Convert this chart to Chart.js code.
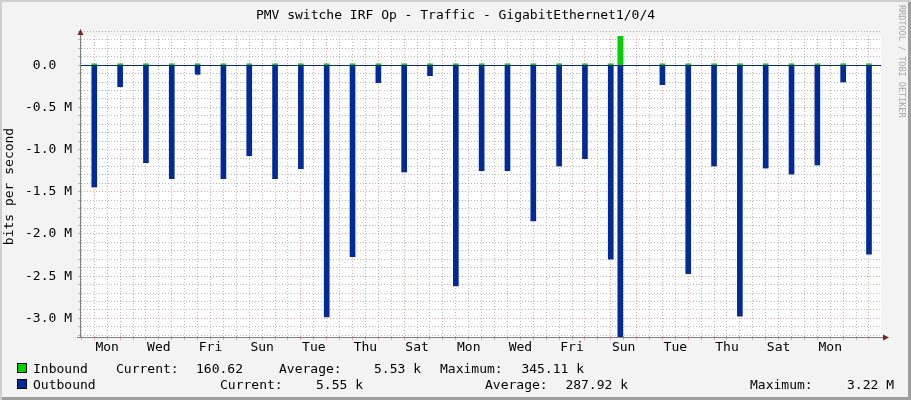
<!DOCTYPE html>
<html lang="en">
<head>
  <meta charset="UTF-8">
  <title>PMV switche IRF Op - Traffic - GigabitEthernet1/0/4</title>
  <script src="https://cdn.jsdelivr.net/npm/chart.js"></script>
  <style>
    body { margin: 0; background: #fff; }
    #graph {
      position: relative; width: 911px; height: 400px; overflow: hidden;
      background: #f3f3f3;
      box-shadow: inset 2px 2px 0 #cfcfcf, inset -3px -3px 0 #9e9e9e;
      font-family: 'DejaVu Sans Mono', monospace; font-size: 13px; color: #000;
    }
    #graph canvas { position: absolute; left: 0; top: 0; }
    .txt { position: absolute; white-space: pre; line-height: 15px; }
    .right { text-align: right; }
    .swatch { position: absolute; width: 8px; height: 8px; border: 1px solid #000; }
    #titulo { left: 0; top: 7px; width: 911px; text-align: center; }
    #firma {
      position: absolute; left: 898px; top: 5px; writing-mode: vertical-rl;
      font-size: 8.5px; line-height: 8px; color: #a8a8a8; white-space: pre;
    }
  </style>
</head>
<body>
  <div id="graph">
    <canvas id="grafico" width="911" height="400"></canvas>
    <div class="txt" id="titulo">PMV switche IRF Op - Traffic - GigabitEthernet1/0/4</div>
    <div id="firma">RRDTOOL / TOBI OETIKER</div>
    <div id="leyenda"></div>
  </div>

  <script>
    // x axis in days since the first Monday 00:00 shown
    const xStart = -0.515;
    const xEnd = 30.465;
    const dayLabels = ['Mon', 'Wed', 'Fri', 'Sun', 'Tue', 'Thu', 'Sat', 'Mon', 'Wed', 'Fri', 'Sun', 'Tue', 'Thu', 'Sat', 'Mon'];

    // y axis (bits per second)
    const yMin = -3.22e6;
    const yMax = 345.11e3;
    const yLabelValues = [0, -0.5, -1.0, -1.5, -2.0, -2.5, -3.0];   // M
    const yLabelTexts = ['0.0', '-0.5 M', '-1.0 M', '-1.5 M', '-2.0 M', '-2.5 M', '-3.0 M'];

    // nightly traffic peaks
    const spikeDays = [0, 1, 2, 3, 4, 5, 6, 7, 8, 9, 10, 11, 12, 13, 14, 15, 16, 17, 18, 19, 20, 20.37,
                       22, 23, 24, 25, 26, 27, 28, 29, 30];
    const outboundMbit = [-1.444, -0.256, -1.156, -1.345, -0.109, -1.345, -1.073, -1.345, -1.227, -2.983,
                          -2.269, -0.208, -1.266, -0.125, -2.616, -1.25, -1.25, -1.846, -1.195, -1.108,
                          -2.297, -3.22, -0.232, -2.47, -1.195, -2.972, -1.219, -1.29, -1.183, -0.2, -2.238];
    const inboundKbit = [16, 16, 16, 16, 16, 16, 16, 16, 16, 16, 16, 16, 16, 16, 16, 16, 16, 16, 16, 16,
                         16, 345.11, 16, 16, 16, 16, 16, 16, 16, 16, 16];

    // legend
    const seriesNames = ['Inbound', 'Outbound'];
    const seriesColors = ['#00CF00', '#002A97'];
    const statNames = ['Current:', 'Average:', 'Maximum:'];
    const inboundStats = ['160.62', '5.53 k', '345.11 k'];
    const outboundStats = ['5.55 k', '287.92 k', '3.22 M'];

    const GRID = 'rgba(143, 143, 143, 0.6)';
    const MGRID = 'rgba(222, 79, 79, 0.5)';
    const AXIS = '#808080';
    const ARROW = '#801f1f';
    const FUENTE = { family: "'DejaVu Sans Mono', monospace", size: 13, lineHeight: 1.2 };

    const gridY = [];
    for (let v = Math.ceil(yMax / 1e5); v >= Math.floor(yMin / 1e5) + 1; v--) gridY.push(v * 1e5);
    const gridX = [];
    for (let h = Math.ceil(xStart * 2); h <= Math.floor(xEnd * 2); h++) gridX.push(h / 2);

    const esMayorY = c => c.tick && Math.round(c.tick.value / 1e5) % 5 === 0;
    const esMayorX = c => c.tick && Number.isInteger(c.tick.value);

    // rrdtool paints the grid over the data, so scales get z: 1
    const fondoYEjes = {
      id: 'fondoYEjes',
      beforeDraw(chart) {
        const a = chart.chartArea, c = chart.ctx;
        c.save();
        c.fillStyle = '#ffffff';
        c.fillRect(a.left, a.top, a.right - a.left, a.bottom - a.top);
        c.restore();
      },
      afterDraw(chart) {
        const a = chart.chartArea, c = chart.ctx;
        const y0 = Math.round(chart.scales.y.getPixelForValue(0)) + 0.5;
        c.save();
        c.strokeStyle = '#0c2a80';
        c.lineWidth = 1;
        c.beginPath(); c.moveTo(a.left, y0); c.lineTo(a.right, y0); c.stroke();
        // axes
        c.strokeStyle = AXIS;
        c.beginPath();
        c.moveTo(a.left - 0.5, a.bottom + 1); c.lineTo(a.left - 0.5, a.top - 5);
        c.moveTo(a.left - 4, a.bottom + 0.5); c.lineTo(a.right + 3, a.bottom + 0.5);
        c.stroke();
        // arrows
        c.fillStyle = ARROW;
        c.beginPath();
        c.moveTo(a.left - 3.5, a.top - 1); c.lineTo(a.left + 2.5, a.top - 1); c.lineTo(a.left - 0.5, a.top - 7);
        c.closePath(); c.fill();
        c.beginPath();
        c.moveTo(a.right + 2, a.bottom - 2.5); c.lineTo(a.right + 2, a.bottom + 3.5); c.lineTo(a.right + 8, a.bottom + 0.5);
        c.closePath(); c.fill();
        c.restore();
      }
    };

    const ctx = document.getElementById('grafico').getContext('2d');
    const chart = new Chart(ctx, {
      type: 'bar',
      data: {
        datasets: [
          {
            label: seriesNames[0],
            data: spikeDays.map((d, i) => ({ x: d, y: inboundKbit[i] * 1e3 })),
            backgroundColor: seriesColors[0],
            barThickness: 5,
            grouped: false
          },
          {
            label: seriesNames[1],
            data: spikeDays.map((d, i) => ({ x: d, y: outboundMbit[i] * 1e6 })),
            backgroundColor: seriesColors[1],
            barThickness: 5,
            grouped: false
          }
        ]
      },
      options: {
        responsive: false,
        animation: false,
        layout: { padding: { left: 0, top: 36, right: 30, bottom: 43 } },
        plugins: { legend: { display: false }, tooltip: { enabled: false } },
        scales: {
          x: {
            type: 'linear',
            z: 1,
            min: xStart,
            max: xEnd,
            offset: false,
            afterBuildTicks: s => { s.ticks = gridX.map(v => ({ value: v })); },
            afterFit: s => { s.height = 20; },
            border: { display: false, dash: [1, 2] },
            grid: {
              offset: false,
              color: c => esMayorX(c) ? MGRID : GRID,
              tickColor: c => esMayorX(c) ? MGRID : GRID,
              tickLength: 3
            },
            ticks: {
              autoSkip: false, maxRotation: 0, padding: 0,
              color: '#000', font: FUENTE,
              callback: v => {
                const k = (v - 0.5) / 2;
                return Number.isInteger(k) && dayLabels[k] ? dayLabels[k] : '';
              }
            }
          },
          y: {
            type: 'linear',
            z: 1,
            min: yMin,
            max: yMax,
            afterBuildTicks: s => { s.ticks = gridY.map(v => ({ value: v })); },
            afterFit: s => { s.width = 81; },
            border: { display: false, dash: [1, 2] },
            grid: {
              color: c => esMayorY(c) ? MGRID : GRID,
              tickColor: c => esMayorY(c) ? MGRID : GRID,
              tickLength: 3
            },
            ticks: {
              autoSkip: false, padding: 6, color: '#000', font: FUENTE,
              callback: v => {
                const i = yLabelValues.findIndex(m => Math.abs(m * 1e6 - v) < 1);
                return i < 0 ? '' : yLabelTexts[i].padEnd(5);
              }
            },
            title: {
              display: true, text: 'bits per second', color: '#000', font: FUENTE,
              padding: { top: 2, bottom: 0 }
            }
          }
        }
      },
      plugins: [fondoYEjes]
    });

    // legend rows (positions follow the rrdtool layout)
    const filaY = [361, 377];
    const etiquetaX = [[116, 279, 440], [220, 485, 750]];
    const valorDerecha = [[243, 421, 584], [363, 628, 894]];
    const stats = [inboundStats, outboundStats];
    const leyenda = document.getElementById('leyenda');

    function agregarTexto(texto, x, y, derecha) {
      const el = document.createElement('div');
      el.className = 'txt' + (derecha ? ' right' : '');
      el.textContent = texto;
      el.style.top = y + 'px';
      if (derecha) { el.style.left = (x - 120) + 'px'; el.style.width = '120px'; }
      else el.style.left = x + 'px';
      leyenda.appendChild(el);
    }

    seriesNames.forEach((nombre, f) => {
      const sw = document.createElement('div');
      sw.className = 'swatch';
      sw.style.left = '17px';
      sw.style.top = (filaY[f] + 2) + 'px';
      sw.style.background = seriesColors[f];
      leyenda.appendChild(sw);
      agregarTexto(nombre, 33, filaY[f], false);
      statNames.forEach((s, j) => {
        agregarTexto(s, etiquetaX[f][j], filaY[f], false);
        agregarTexto(stats[f][j], valorDerecha[f][j], filaY[f], true);
      });
    });
  </script>
</body>
</html>
